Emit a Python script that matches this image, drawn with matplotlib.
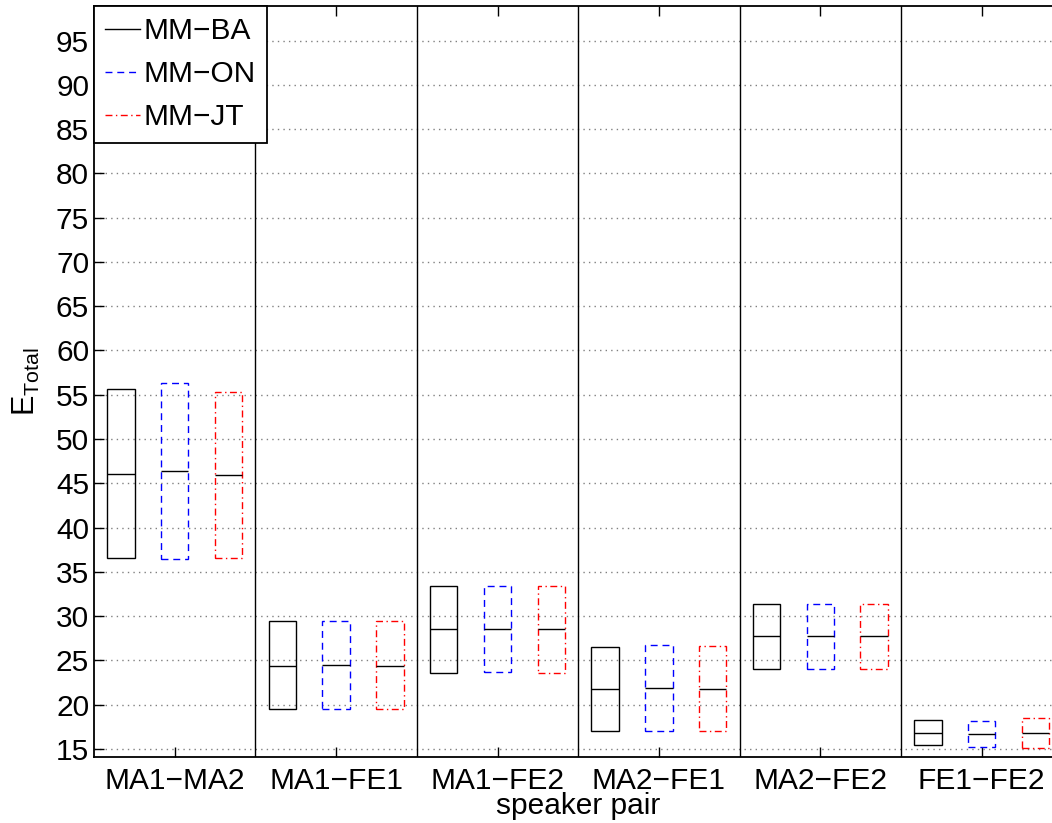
import numpy as np
import matplotlib.pyplot as plt

pairs = ["MA1\u2212MA2", "MA1\u2212FE1", "MA1\u2212FE2", "MA2\u2212FE1", "MA2\u2212FE2", "FE1\u2212FE2"]
methods = ["MM\u2212BA", "MM\u2212ON", "MM\u2212JT"]

# upper edge, median and lower edge of each box, per method
ba_top = [55.7, 29.4, 33.4, 26.55, 31.4, 18.3]
ba_med = [46.1, 24.4, 28.5, 21.8, 27.7, 16.8]
ba_bot = [36.6, 19.5, 23.6, 17.0, 24.05, 15.4]

on_top = [56.3, 29.4, 33.4, 26.7, 31.4, 18.2]
on_med = [46.4, 24.45, 28.5, 21.85, 27.7, 16.7]
on_bot = [36.4, 19.5, 23.65, 17.0, 24.05, 15.25]

jt_top = [55.3, 29.4, 33.45, 26.6, 31.4, 18.45]
jt_med = [45.9, 24.4, 28.5, 21.8, 27.7, 16.75]
jt_bot = [36.6, 19.5, 23.6, 17.0, 24.05, 15.05]

series = [(ba_top, ba_med, ba_bot), (on_top, on_med, on_bot), (jt_top, jt_med, jt_bot)]
colors = ["black", "blue", "red"]
styles = ["-", (0, (5, 3.5)), (0, (5, 2.5, 1, 2.5))]
offsets = [-1 / 3, 0, 1 / 3]
width = 0.17

plt.rcParams["font.family"] = ["Liberation Sans", "DejaVu Sans"]

fig = plt.figure(figsize=(10.52, 8.23), dpi=100)
ax = fig.add_axes([0.0894, 0.0798, 0.9205, 0.9129])

x = np.arange(1, len(pairs) + 1)
handles = []
for (top, med, bot), c, ls, off, name in zip(series, colors, styles, offsets, methods):
    top = np.array(top)
    bot = np.array(bot)
    ax.bar(x + off, top - bot, width=width, bottom=bot, fill=False,
           edgecolor=c, linestyle=ls, linewidth=1.0, zorder=3)
    ax.hlines(med, x + off - width / 2, x + off + width / 2, color="black",
              linewidth=1.0, zorder=4)
    h, = ax.plot([], [], color=c, linestyle=ls, linewidth=1.0, label=name)
    handles.append(h)

for xs in x[:-1] + 0.5:
    ax.axvline(xs, color="black", linewidth=1.0, zorder=2)

ax.set_xlim(0.5, 6.5)
ax.set_ylim(14.05, 98.9)
ax.set_xticks(x)
ax.set_xticklabels(pairs)
ax.set_yticks(np.arange(15, 100, 5))
ax.yaxis.grid(True, linestyle=(0, (1, 3)), color="gray", linewidth=1.0)
ax.set_axisbelow(True)
ax.tick_params(direction="in", length=7, width=1, labelsize=21.5, top=True, right=True)
ax.tick_params(axis="x", pad=7)
for sp in ax.spines.values():
    sp.set_linewidth(1.3)

ax.set_xlabel("speaker pair", fontsize=21.5, labelpad=-2)
ax.set_ylabel("E$_{\\mathregular{Total}}$", fontsize=22, labelpad=10)

leg = ax.legend(handles=handles, loc="upper left", fontsize=21.5, borderaxespad=0,
                handlelength=1.15, handletextpad=0.12, labelspacing=0.5,
                fancybox=False, framealpha=1, edgecolor="black", borderpad=0.38)
leg.get_frame().set_linewidth(1.3)

fig.savefig("out.png", dpi=100)
